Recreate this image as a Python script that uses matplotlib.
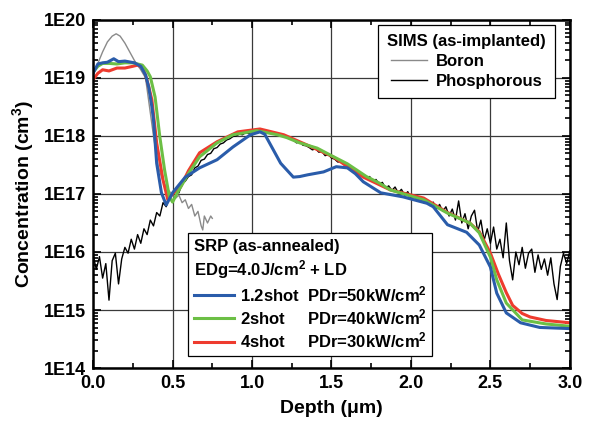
import numpy as np
import matplotlib.pyplot as plt
from matplotlib.ticker import MultipleLocator, LogLocator, FixedLocator, FuncFormatter, NullFormatter
from matplotlib.lines import Line2D

plt.rcParams['font.family'] = ['Liberation Sans', 'DejaVu Sans']
plt.rcParams['font.weight'] = 'bold'
plt.rcParams['mathtext.default'] = 'regular'

# SIMS boron (as-implanted), log10 concentration
boron_x = [0.00, 0.03, 0.06, 0.09, 0.12, 0.145, 0.17, 0.20, 0.23, 0.26, 0.30, 0.33, 0.35, 0.38,
           0.41, 0.44, 0.47, 0.50, 0.52, 0.54, 0.56, 0.58, 0.60, 0.62, 0.64, 0.66, 0.68, 0.69,
           0.70, 0.72, 0.74, 0.75]
boron_y = [19.05, 19.25, 19.45, 19.62, 19.72, 19.76, 19.72, 19.60, 19.45, 19.30, 19.14, 19.00, 18.60, 18.00,
           17.47, 17.22, 17.08, 16.98, 16.93, 16.98, 16.85, 16.90, 16.75, 16.82, 16.62, 16.70, 16.45, 16.38,
           16.62, 16.50, 16.62, 16.58]

# SIMS phosphorous, sampled every 0.02 um
phos_x = np.round(np.arange(0, 3.001, 0.02), 2)
phos_y = [15.95, 15.70, 15.92, 15.55, 15.80, 15.17, 15.85, 15.98, 15.45, 15.88,
          16.08, 15.98, 16.22, 16.05, 16.30, 16.15, 16.40, 16.30, 16.55, 16.45,
          16.68, 16.62, 16.85, 16.78, 16.95,
          16.98, 17.05, 17.02, 17.18, 17.22, 17.30, 17.33, 17.45, 17.48, 17.58,
          17.60, 17.68, 17.70, 17.78, 17.80, 17.86, 17.88, 17.93, 17.95, 17.99,
          18.00, 18.03, 18.02, 18.06, 18.04, 18.07,
          18.09, 18.07, 18.10, 18.07, 18.08, 18.05, 18.06, 18.02, 18.03, 17.99,
          17.98, 17.95, 17.93, 17.88, 17.90, 17.84, 17.83, 17.80, 17.76, 17.78,
          17.72, 17.73, 17.66, 17.68, 17.62, 17.60, 17.55, 17.56, 17.50, 17.48,
          17.46, 17.40, 17.42, 17.35, 17.33, 17.28, 17.30, 17.22, 17.25, 17.17,
          17.20, 17.10, 17.14, 17.06, 17.12, 17.02, 17.08, 16.98, 17.04, 16.93,
          16.97, 16.88, 16.92, 16.85, 16.90, 16.80, 16.86, 16.74, 16.82, 16.70,
          16.78, 16.62, 16.74, 16.55, 16.88, 16.50, 16.66, 16.40, 16.62, 16.72,
          16.35, 16.55, 16.20, 16.40, 16.15, 16.43, 16.05, 16.22, 15.90, 16.50,
          15.85, 15.52, 16.00, 15.78, 16.08, 15.72, 15.98, 16.05, 15.65, 15.95,
          15.70, 15.88, 15.60, 15.90, 15.45, 15.18, 15.75, 15.98, 15.80, 16.02]

# SRP (as-annealed)
blue_x = [0.00, 0.03, 0.06, 0.09, 0.13, 0.16, 0.20, 0.26, 0.30, 0.33, 0.35, 0.37, 0.38, 0.40,
          0.43, 0.46, 0.50, 0.58, 0.67, 0.78, 0.88, 0.99, 1.05, 1.08, 1.11, 1.18, 1.26, 1.30,
          1.35, 1.45, 1.53, 1.60, 1.65, 1.70, 1.81, 1.95, 2.10, 2.14, 2.23, 2.35, 2.43, 2.50,
          2.54, 2.60, 2.69, 2.81, 3.00]
blue_y = [19.08, 19.24, 19.26, 19.27, 19.33, 19.28, 19.29, 19.26, 19.20, 19.05, 18.84, 18.50, 18.28, 17.53,
          17.02, 16.81, 17.02, 17.29, 17.45, 17.59, 17.81, 18.02, 18.07, 18.03, 17.88, 17.53, 17.29, 17.30,
          17.33, 17.38, 17.47, 17.45, 17.35, 17.21, 17.02, 16.95, 16.84, 16.78, 16.47, 16.34, 16.12, 15.74,
          15.29, 14.95, 14.78, 14.70, 14.68]

green_x = [0.00, 0.03, 0.06, 0.10, 0.15, 0.20, 0.25, 0.31, 0.34, 0.36, 0.39, 0.42, 0.45, 0.48,
           0.50, 0.53, 0.60, 0.67, 0.78, 0.88, 1.03, 1.16, 1.22, 1.30, 1.41, 1.50, 1.60, 1.72,
           1.80, 1.87, 2.04, 2.08, 2.23, 2.37, 2.43, 2.50, 2.54, 2.60, 2.70, 2.85, 3.00]
green_y = [19.10, 19.20, 19.25, 19.25, 19.24, 19.26, 19.26, 19.22, 19.12, 19.02, 18.67, 17.98, 17.41, 16.95,
           16.86, 17.02, 17.35, 17.64, 17.88, 18.02, 18.09, 18.02, 17.97, 17.88, 17.79, 17.66, 17.52, 17.30,
           17.19, 17.07, 16.93, 16.90, 16.67, 16.50, 16.33, 15.91, 15.52, 15.12, 14.83, 14.76, 14.72]

red_x = [0.00, 0.03, 0.06, 0.10, 0.15, 0.20, 0.25, 0.28, 0.31, 0.33, 0.35, 0.37, 0.40, 0.44,
         0.47, 0.50, 0.55, 0.60, 0.67, 0.78, 0.91, 1.05, 1.20, 1.35, 1.51, 1.70, 1.87, 2.08,
         2.23, 2.37, 2.43, 2.50, 2.55, 2.60, 2.64, 2.70, 2.75, 2.85, 3.00]
red_y = [18.97, 19.08, 19.14, 19.12, 19.17, 19.17, 19.20, 19.22, 19.18, 19.05, 18.85, 18.62, 17.88, 17.24,
         16.90, 17.00, 17.12, 17.40, 17.71, 17.90, 18.07, 18.12, 18.02, 17.84, 17.64, 17.29, 17.07, 16.93,
         16.68, 16.50, 16.35, 15.98, 15.62, 15.30, 15.08, 14.94, 14.88, 14.82, 14.78]

decades = [14, 15, 16, 17, 18, 19, 20]
srp_labels = ['1.2shot  PDr=50kW/cm$^2$', '2shot     PDr=40kW/cm$^2$', '4shot     PDr=30kW/cm$^2$']
c_blue = '#2a5caa'
c_green = '#6cbf45'
c_red = '#ee3b2e'

fig = plt.figure(figsize=(5.93, 4.32), dpi=100)
ax = fig.add_axes([0.157, 0.148, 0.804, 0.806])

ax.plot(boron_x, 10 ** np.array(boron_y), color='#8a8a8a', lw=1.0)
ax.plot(phos_x, 10 ** np.array(phos_y), color='black', lw=1.0)
ax.plot(red_x, 10 ** np.array(red_y), color=c_red, lw=2.2)
ax.plot(green_x, 10 ** np.array(green_y), color=c_green, lw=2.2)
ax.plot(blue_x, 10 ** np.array(blue_y), color=c_blue, lw=2.2)

ax.set_yscale('log')
ax.set_xlim(0, 3.0)
ax.set_ylim(1e14, 1e20)
ax.xaxis.set_major_locator(MultipleLocator(0.5))
ax.xaxis.set_minor_locator(MultipleLocator(0.25))
ax.yaxis.set_major_locator(FixedLocator([10.0 ** d for d in decades]))
ax.yaxis.set_minor_locator(LogLocator(base=10, subs=np.arange(2, 10), numticks=20))
ax.yaxis.set_major_formatter(FuncFormatter(lambda v, p: '1E%d' % round(np.log10(v))))
ax.yaxis.set_minor_formatter(NullFormatter())
ax.xaxis.set_major_formatter(FuncFormatter(lambda v, p: '%.1f' % v))

ax.tick_params(which='both', direction='in', top=True, right=True, labelsize=13, width=1.2)
ax.tick_params(which='major', length=6, pad=5)
ax.tick_params(which='minor', length=3.5)
for s in ax.spines.values():
    s.set_linewidth(1.8)
ax.grid(True, which='major', color='#3a3a3a', lw=0.9)
ax.set_axisbelow(True)

ax.set_xlabel('Depth (\u03bcm)', fontsize=14, fontweight='bold', labelpad=6)
ax.set_ylabel('Concentration (cm$^3$)', fontsize=14, fontweight='bold', labelpad=6)

sims = ax.legend([Line2D([], [], color='#8a8a8a', lw=1.0), Line2D([], [], color='black', lw=1.0)],
                 ['Boron', 'Phosphorous'], title='SIMS (as-implanted)', loc='upper right',
                 bbox_to_anchor=(0.969, 0.986), fancybox=False, framealpha=1, edgecolor='black',
                 prop={'size': 12, 'weight': 'bold'}, title_fontproperties={'size': 12, 'weight': 'bold'},
                 handlelength=2.2, handletextpad=0.5, labelspacing=0.3, borderpad=0.55,
                 borderaxespad=0)
sims.get_frame().set_linewidth(0.9)
ax.add_artist(sims)

srp = ax.legend([Line2D([], [], color=c_blue, lw=2.2), Line2D([], [], color=c_green, lw=2.2),
                 Line2D([], [], color=c_red, lw=2.2)],
                srp_labels, title='SRP (as-annealed)\nEDg=4.0J/cm$^2$ + LD', loc='lower left',
                bbox_to_anchor=(0.199, 0.034), alignment='left', fancybox=False, framealpha=1,
                edgecolor='black', prop={'size': 12, 'weight': 'bold'},
                title_fontproperties={'size': 12, 'weight': 'bold'},
                handlelength=2.4, handletextpad=0.35, labelspacing=0.2, borderpad=0.35,
                borderaxespad=0)
srp.get_frame().set_linewidth(0.9)

fig.savefig('out.png', dpi=100)
